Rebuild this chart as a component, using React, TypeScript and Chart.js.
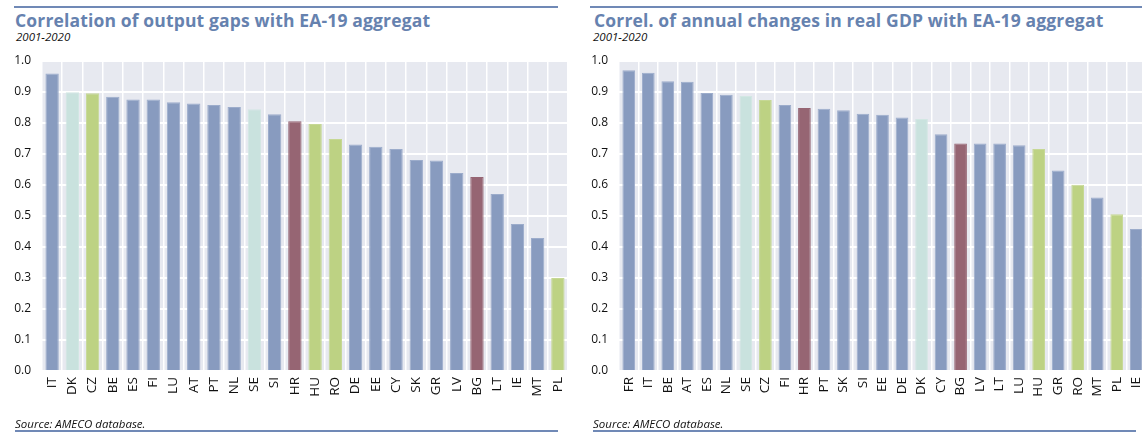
import React, { useEffect, useRef } from "react";
import { Chart, registerables } from "chart.js";

Chart.register(...registerables);

// ---- Data: left panel (output gaps) ----
const gapCountries = ["IT", "DK", "CZ", "BE", "ES", "FI", "LU", "AT", "PT", "NL", "SE", "SI", "HR", "HU", "RO", "DE", "EE", "CY", "SK", "GR", "LV", "BG", "LT", "IE", "MT", "PL"];
const gapValues = [0.96, 0.899, 0.896, 0.885, 0.876, 0.876, 0.867, 0.863, 0.858, 0.852, 0.844, 0.828, 0.806, 0.797, 0.748, 0.731, 0.723, 0.716, 0.681, 0.679, 0.639, 0.626, 0.571, 0.474, 0.429, 0.3];
const gapGroups = ["b", "t", "g", "b", "b", "b", "b", "b", "b", "b", "t", "b", "m", "g", "g", "b", "b", "b", "b", "b", "b", "m", "b", "b", "b", "g"];

// ---- Data: right panel (annual changes in real GDP) ----
const gdpCountries = ["FR", "IT", "BE", "AT", "ES", "NL", "SE", "CZ", "FI", "HR", "PT", "SK", "SI", "EE", "DE", "DK", "CY", "BG", "LV", "LT", "LU", "HU", "GR", "RO", "MT", "PL", "IE"];
const gdpValues = [0.97, 0.962, 0.935, 0.933, 0.897, 0.891, 0.887, 0.874, 0.858, 0.848, 0.846, 0.841, 0.83, 0.827, 0.818, 0.813, 0.764, 0.734, 0.734, 0.734, 0.728, 0.716, 0.647, 0.601, 0.56, 0.506, 0.458];
const gdpGroups = ["b", "b", "b", "b", "b", "b", "t", "g", "b", "m", "b", "b", "b", "b", "b", "t", "b", "m", "b", "b", "b", "g", "b", "g", "b", "g", "b"];

const yTicks = [0, 0.1, 0.2, 0.3, 0.4, 0.5, 0.6, 0.7, 0.8, 0.9, 1.0];

const fillColors: Record<string, string> = { b: "#889BBF", t: "#C9E2DE", g: "#BDD283", m: "#966573" };
const edgeColors: Record<string, string> = { b: "#9CACCB", t: "#D2E7E3", g: "#C6D895", m: "#966573" };

const plotBg = {
  id: "plotBg",
  beforeDraw(chart: any) {
    const { ctx, chartArea: a } = chart;
    ctx.save();
    ctx.fillStyle = "#E7E9F0";
    ctx.fillRect(a.left, a.top, a.right - a.left, a.bottom - a.top);
    ctx.restore();
  },
};

function BarPanel(props: { labels: string[]; values: number[]; groups: string[]; yWidth: number; barPct: number; style: React.CSSProperties }) {
  const ref = useRef<HTMLCanvasElement>(null);
  useEffect(() => {
    const chart = new Chart(ref.current as HTMLCanvasElement, {
      type: "bar",
      data: {
        labels: props.labels,
        datasets: [
          {
            data: props.values,
            backgroundColor: props.groups.map((g) => fillColors[g]),
            borderColor: props.groups.map((g) => edgeColors[g]),
            borderWidth: 1,
            borderSkipped: "bottom",
            barPercentage: props.barPct,
            categoryPercentage: 1,
          },
        ],
      },
      options: {
        responsive: false,
        maintainAspectRatio: false,
        animation: false,
        layout: { padding: { top: 11, left: 0, right: 0, bottom: 0 } },
        plugins: { legend: { display: false }, tooltip: { enabled: false }, title: { display: false } },
        scales: {
          x: {
            grid: { color: "#FFFFFF", lineWidth: 1.5, drawTicks: false, offset: true },
            border: { display: false },
            ticks: { autoSkip: false, minRotation: 90, maxRotation: 90, padding: 6, color: "#111111", font: { family: "Open Sans", size: 13.5 } },
            afterFit: (s: any) => {
              s.height = 50;
              s.paddingLeft = 0;
              s.paddingRight = 0;
            },
          },
          y: {
            min: 0,
            max: 1,
            afterBuildTicks: (s: any) => {
              s.ticks = yTicks.map((v) => ({ value: v }));
            },
            grid: { color: "#FFFFFF", lineWidth: 2, drawTicks: false },
            border: { display: false },
            ticks: { padding: 11, color: "#111111", font: { family: "Open Sans", size: 12 }, callback: (v: any) => Number(v).toFixed(1) },
            afterFit: (s: any) => {
              s.width = props.yWidth;
              s.paddingTop = 0;
              s.paddingBottom = 0;
            },
          },
        },
      },
      plugins: [plotBg],
    });
    return () => chart.destroy();
  }, []);
  return <canvas ref={ref} width={props.style.width as number} height={props.style.height as number} style={{ position: "absolute", ...props.style }} />;
}

const titleStyle: React.CSSProperties = {
  position: "absolute",
  fontFamily: "Open Sans",
  fontWeight: 700,
  fontSize: 17.5,
  letterSpacing: 0.15,
  color: "#6682AF",
  lineHeight: "20px",
  whiteSpace: "nowrap",
};
const smallItalic: React.CSSProperties = {
  position: "absolute",
  fontFamily: "Open Sans",
  fontStyle: "italic",
  fontSize: 11.5,
  color: "#111111",
  lineHeight: "14px",
  whiteSpace: "nowrap",
};
const rule = (left: number, top: number, width: number): React.CSSProperties => ({
  position: "absolute",
  left,
  top,
  width,
  height: 2,
  background: "#7089B6",
});

export default function App() {
  return (
    <div style={{ position: "fixed", left: 0, top: 0, width: 1142, height: 432, overflow: "hidden", background: "#FFFFFF" }}>
      {/* Left panel */}
      <div style={rule(14, 6, 544)} />
      <div style={{ ...titleStyle, left: 15, top: 10 }}>Correlation of output gaps with EA-19 aggregat</div>
      <div style={{ ...smallItalic, left: 16, top: 30 }}>2001-2020</div>
      <BarPanel labels={gapCountries} values={gapValues} groups={gapGroups} yWidth={42} barPct={0.66} style={{ left: 0, top: 50, width: 568, height: 371 }} />
      <div style={{ ...smallItalic, left: 15, top: 417 }}>Source: AMECO database.</div>
      <div style={{ ...rule(15, 430, 543), height: 1.5 }} />

      {/* Right panel */}
      <div style={rule(590, 6, 560)} />
      <div style={{ ...titleStyle, left: 594, top: 10 }}>Correl. of annual changes in real GDP with EA-19 aggregat</div>
      <div style={{ ...smallItalic, left: 593, top: 30 }}>2001-2020</div>
      <BarPanel labels={gdpCountries} values={gdpValues} groups={gdpGroups} yWidth={44} barPct={0.65} style={{ left: 575, top: 50, width: 571, height: 371 }} />
      <div style={{ ...smallItalic, left: 593, top: 417 }}>Source: AMECO database.</div>
      <div style={{ ...rule(593, 430, 543), height: 1.5 }} />
    </div>
  );
}
